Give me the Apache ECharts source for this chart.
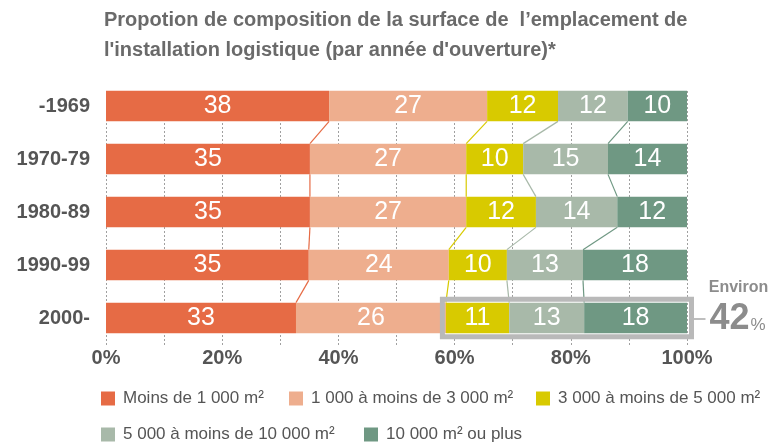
<!DOCTYPE html>
<html>
<head>
<meta charset="utf-8">
<script src="https://cdn.jsdelivr.net/npm/echarts@6/dist/echarts.min.js"></script>
<style>html,body{margin:0;padding:0;background:#fff}#c{width:775px;height:442px}</style>
</head>
<body>
<div id="c"></div>
<script>
const categories = ['-1969', '1970-79', '1980-89', '1990-99', '2000-'];
const seriesNames = ['Moins de 1 000 m²', '1 000 à moins de 3 000 m²', '3 000 à moins de 5 000 m²', '5 000 à moins de 10 000 m²', '10 000 m² ou plus'];
const moins1000 = [38.4, 35.1, 35.1, 34.9, 32.7];
const de1000a3000 = [27.2, 26.9, 26.9, 24.1, 25.8];
const de3000a5000 = [12.2, 9.8, 12.0, 10.0, 10.9];
const de5000a10000 = [12.0, 14.6, 14.0, 13.1, 12.9];
const plus10000 = [10.2, 13.6, 12.0, 17.9, 17.7];
const xTicks = [0, 20, 40, 60, 80, 100];
const annotationLabel = 'Environ';
const annotationValue = '42';

const colors = ['#E66B45', '#EEAE8E', '#D8CA00', '#A8B9A9', '#6F9883'];
const connectorColors = ['#E66B45', '#D8CA00', '#A8B9A9', '#6F9883'];
const allSeries = [moins1000, de1000a3000, de3000a5000, de5000a10000, plus10000];
const BAR_RATIO = 0.58;
const FONT = '"Liberation Sans", Arial, Helvetica, sans-serif';

// cumulative boundaries
const cum = [];
for (let k = 0; k < allSeries.length; k++) {
  cum.push(categories.map((_, i) => {
    let s = 0;
    for (let j = 0; j <= k; j++) s += allSeries[j][i];
    return s;
  }));
}

const series = [];
allSeries.forEach((vals, k) => {
  series.push({
    name: seriesNames[k],
    type: 'bar',
    stack: 'total',
    xAxisIndex: 0, yAxisIndex: 0,
    barWidth: (BAR_RATIO * 100) + '%',
    itemStyle: { color: colors[k] },
    label: {
      show: true, position: 'inside', color: '#fff', fontSize: 25, fontFamily: FONT,
      formatter: p => Math.round(p.value)
    },
    emphasis: { disabled: true },
    z: 3,
    data: vals
  });
});

// connector lines between bars
for (let k = 0; k < 4; k++) {
  const data = [];
  for (let i = 0; i < categories.length - 1; i++) {
    data.push([cum[k][i], i, cum[k][i + 1], i + 1]);
  }
  series.push({
    type: 'custom',
    xAxisIndex: 0, yAxisIndex: 0,
    silent: true,
    z: 2,
    renderItem: (params, api) => {
      const p1 = api.coord([api.value(0), api.value(1)]);
      const p2 = api.coord([api.value(2), api.value(3)]);
      const band = api.size([0, 1])[1];
      const half = band * BAR_RATIO / 2;
      return {
        type: 'line',
        shape: { x1: p1[0], y1: p1[1] + half, x2: p2[0], y2: p2[1] - half },
        style: { stroke: connectorColors[k], lineWidth: 1.2 }
      };
    },
    data: data
  });
}

// highlight box around the last row (segments 3..5) with annotation
const lastIdx = categories.length - 1;
series.push({
  type: 'custom',
  xAxisIndex: 0, yAxisIndex: 0,
  silent: true,
  z: 5,
  renderItem: (params, api) => {
    const pStart = api.coord([api.value(0), api.value(2)]);
    const pEnd = api.coord([api.value(1), api.value(2)]);
    const band = api.size([0, 1])[1];
    const half = band * BAR_RATIO / 2;
    const pad = 3.5;
    const x0 = pStart[0] - pad, x1 = pEnd[0] + pad + 1;
    const y0 = pStart[1] - half - pad, y1 = pStart[1] + half + pad;
    const cy = pStart[1];
    return {
      type: 'group',
      children: [
        { type: 'rect', shape: { x: x0, y: y0, width: x1 - x0, height: y1 - y0 },
          style: { fill: 'none', stroke: '#B9B9B9', lineWidth: 5 } },
        { type: 'line', shape: { x1: x1 + 2.5, y1: cy + 1, x2: x1 + 14, y2: cy + 1 },
          style: { stroke: '#A9A9A9', lineWidth: 1.5 } },
        { type: 'text', x: x1 + 47, y: cy - 30,
          style: { text: annotationLabel, fill: '#8C8C8C', font: 'bold 16px ' + FONT, align: 'center', verticalAlign: 'middle' } },
        { type: 'text', x: x1 + 18, y: cy + 1,
          style: { text: '{a|' + annotationValue + '}{b|%}',
            rich: {
              a: { fontSize: 36, fontWeight: 'bold', fontFamily: FONT, fill: '#8C8C8C', color: '#8C8C8C', verticalAlign: 'bottom' },
              b: { fontSize: 17, fontFamily: FONT, fill: '#8C8C8C', color: '#8C8C8C', verticalAlign: 'bottom', padding: [0, 0, 3, 1] }
            },
            align: 'left', verticalAlign: 'middle' } }
      ]
    };
  },
  data: [[cum[1][lastIdx], cum[4][lastIdx], lastIdx]]
});

const legendPos = [[101, 390], [289, 390], [536, 390], [101, 426], [364, 426]];
const legends = seriesNames.map((n, k) => ({
  data: [n],
  left: legendPos[k][0], top: legendPos[k][1],
  padding: 0,
  itemWidth: 14, itemHeight: 14, itemGap: 0,
  selectedMode: false,
  icon: 'rect',
  textStyle: { fontSize: 17, color: '#555', fontFamily: FONT, padding: [0, 0, 0, 3] }
}));

const chart = echarts.init(document.getElementById('c'), null, { renderer: 'canvas' });
chart.setOption({
  animation: false,
  backgroundColor: '#fff',
  title: {
    text: 'Propotion de composition de la surface de  l’emplacement de\nl\'installation logistique (par année d\'ouverture)*',
    left: 104, top: 5, padding: 0,
    textStyle: { fontSize: 20, fontWeight: 'bold', color: '#6A6A6A', fontFamily: FONT, lineHeight: 30 }
  },
  legend: legends,
  grid: [
    { left: 106, right: 88, top: 79.5, bottom: 97.5 },
    { left: 106, right: 88, top: 91, bottom: 96 }
  ],
  xAxis: [
    {
      gridIndex: 0, type: 'value', min: 0, max: 100, interval: 20,
      axisLine: { show: false }, axisTick: { show: false }, splitLine: { show: false },
      axisLabel: {
        margin: 4, fontSize: 20, fontWeight: 'bold', color: '#555', fontFamily: FONT,
        formatter: v => xTicks.indexOf(v) >= 0 ? v + '%' : ''
      }
    },
    {
      gridIndex: 1, type: 'value', min: 0, max: 100, interval: 10,
      axisLine: { show: false }, axisTick: { show: false }, axisLabel: { show: false },
      splitLine: { show: true, lineStyle: { color: '#A0A0A0', type: [2, 2], width: 1 } }
    }
  ],
  yAxis: [
    {
      gridIndex: 0, type: 'category', data: categories, inverse: true,
      axisLine: { show: false }, axisTick: { show: false },
      axisLabel: { margin: 16, fontSize: 20, fontWeight: 'bold', color: '#555', fontFamily: FONT }
    },
    { gridIndex: 1, type: 'value', show: false }
  ],
  series: series
});
</script>
</body>
</html>
